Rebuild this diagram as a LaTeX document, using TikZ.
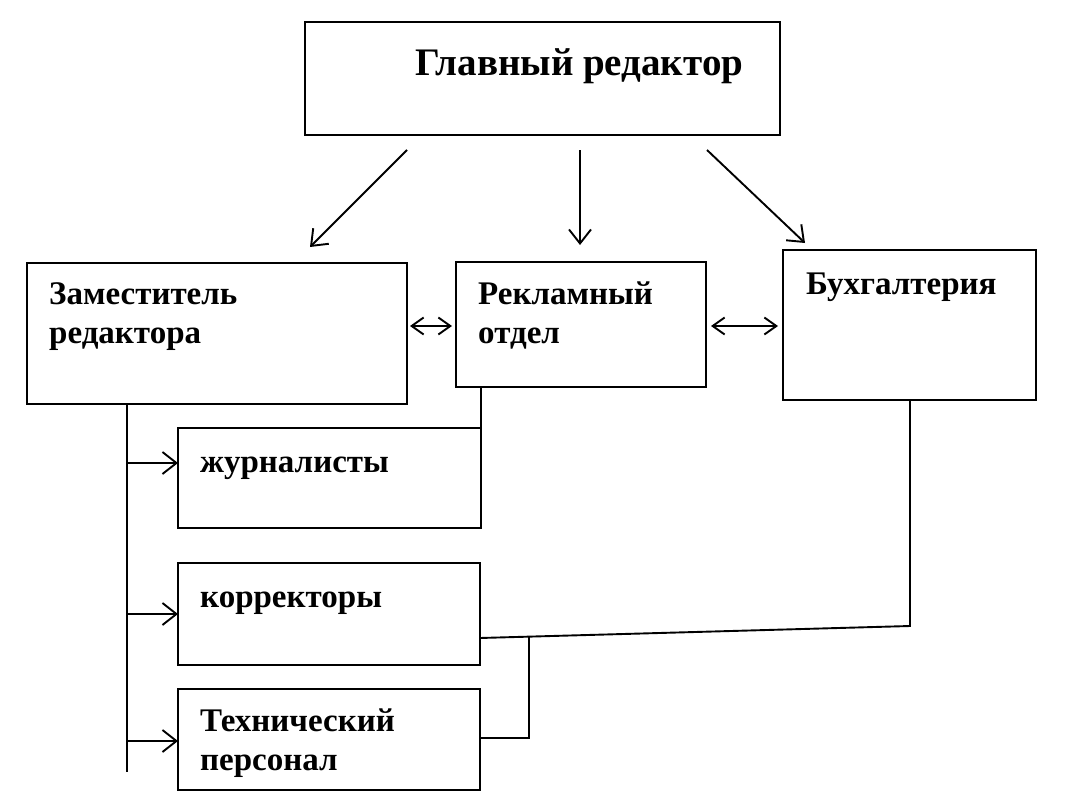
\documentclass[tikz,border=0pt]{standalone}
\usepackage{fontspec}
\setmainfont{Liberation Serif}
\usetikzlibrary{arrows.meta}
\begin{document}
\begin{tikzpicture}[x=1pt,y=-1pt,
  box/.style={draw, line width=2pt, inner sep=0pt, outer sep=0pt, anchor=north west},
  lbl/.style={anchor=base west, inner sep=0pt, align=left,
    font=\fontsize{33}{39}\selectfont\bfseries},
  ttl/.style={anchor=base west, inner sep=0pt,
    font=\fontsize{39}{46}\selectfont\bfseries},
  conn/.style={line width=1.9pt},
  arr/.style={conn, -{Straight Barb[length=14pt,width=22pt]}},
  darr/.style={conn, {Straight Barb[length=12pt,width=17pt]}-{Straight Barb[length=12pt,width=17pt]}}]
\useasboundingbox (0,0) rectangle (1070,808);

% boxes
\node[box, minimum width=475pt, minimum height=113pt] (gl) at (305,22) {};
\node[box, minimum width=380pt, minimum height=141pt] (zam) at (27,263) {};
\node[box, minimum width=250pt, minimum height=125pt] (rek) at (456,262) {};
\node[box, minimum width=253pt, minimum height=150pt] (buh) at (783,250) {};
\node[box, minimum width=303pt, minimum height=100pt] (zhur) at (178,428) {};
\node[box, minimum width=302pt, minimum height=102pt] (korr) at (178,563) {};
\node[box, minimum width=302pt, minimum height=101pt] (tech) at (178,689) {};

% labels (anchor = baseline of last line)
\node[ttl] (tgl) at (415,75) {Главный редактор};
\node[lbl] (tzam) at (49,343) {Заместитель\\редактора};
\node[lbl] (trek) at (478,343) {Рекламный\\отдел};
\node[lbl] (tbuh) at (806,294) {Бухгалтерия};
\node[lbl] (tzhur) at (200,472) {журналисты};
\node[lbl] (tkorr) at (200,607) {корректоры};
\node[lbl] (ttech) at (200,770) {Технический\\персонал};

% coordinates for free ends
\coordinate (g1) at (407,150);
\coordinate (g2) at (580,150);
\coordinate (g3) at (707,150);
\coordinate (e1) at (310,247);
\coordinate (e2) at (580,245);
\coordinate (e3) at (805,243);
\coordinate (d1a) at (410,326);
\coordinate (d1b) at (452,326);
\coordinate (d2a) at (711,326);
\coordinate (d2b) at (778,326);
\coordinate (sp1) at (127,772);
\coordinate (sj) at (127,463);
\coordinate (sk) at (127,614);
\coordinate (st) at (127,741);
\coordinate (b1) at (910,626);
\coordinate (kk) at (480,638);
\coordinate (m1) at (529,637);
\coordinate (m2) at (529,738);
\coordinate (tt) at (480,738);

% connectors from chief
\draw[arr] (g1) -- (e1);
\draw[arr] (g2) -- (e2);
\draw[arr] (g3) -- (e3);

% double arrows
\draw[darr] (d1a) -- (d1b);
\draw[darr] (d2a) -- (d2b);

% spine from deputy
\draw[conn] (zam.south west -| sp1) -- (sp1);
\draw[arr] (sj) -- (sj -| zhur.west);
\draw[arr] (sk) -- (sk -| korr.west);
\draw[arr] (st) -- (st -| tech.west);

% advertising to journalists
\draw[conn] (zhur.north east |- rek.south) -- (zhur.north east);

% accounting to correctors and technical staff
\draw[conn] (buh.south west -| b1) -- (b1) -- (kk);
\draw[conn] (m1) -- (m2) -- (tt);
\end{tikzpicture}
\end{document}
